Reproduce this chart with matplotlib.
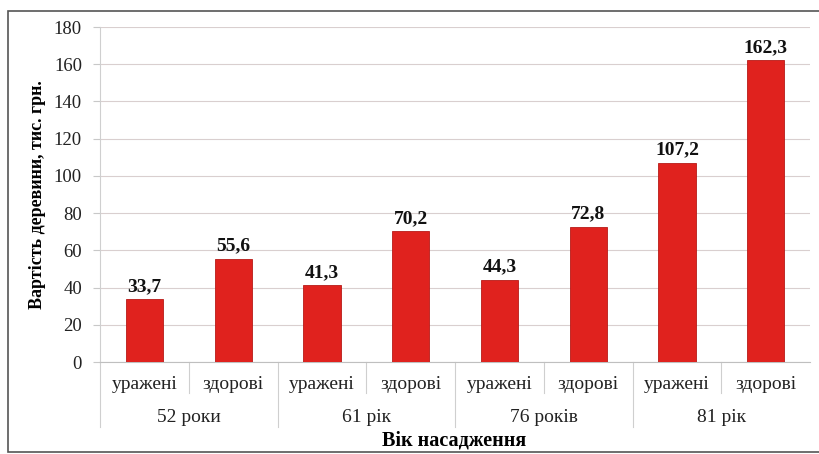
import matplotlib

matplotlib.use("Agg")
import matplotlib.pyplot as plt
import matplotlib.transforms as mtransforms
from matplotlib.patches import Rectangle

plt.rcParams["font.family"] = "serif"
plt.rcParams["font.serif"] = ["Liberation Serif", "DejaVu Serif"]

# data
groups = ["52 роки", "61 рік", "76 років", "81 рік"]
subgroups = ["уражені", "здорові"]
values = [33.7, 55.6, 41.3, 70.2, 44.3, 72.8, 107.2, 162.3]

bar_color = "#e0221e"

fig = plt.figure(figsize=(8.2, 4.54), dpi=100)
ax = fig.add_axes([0.122, 0.2026, 0.866, 0.7379])

x = list(range(len(values)))
ax.bar(x, values, width=0.42, color=bar_color, edgecolor="#b81a17", linewidth=0.6, zorder=3)

for xi, v in zip(x, values):
    ax.annotate(f"{v:.1f}".replace(".", ","), (xi, v), xytext=(0, 3),
                textcoords="offset points", ha="center", va="bottom",
                fontsize=14, fontweight="bold", color="#111111")

ax.set_xlim(-0.5, len(values) - 0.5)
ax.set_ylim(0, 180)
ax.set_yticks(range(0, 181, 20))
ax.tick_params(axis="y", labelsize=13.5, length=5, color="#c8c8c8", width=0.8, pad=8,
               labelcolor="#222222")
ax.grid(axis="y", color="#d9cfcf", linewidth=0.8, zorder=0)
ax.set_axisbelow(True)

for side in ["top", "right"]:
    ax.spines[side].set_visible(False)
ax.spines["left"].set_color("#cfcfcf")
ax.spines["bottom"].set_color("#bfbfbf")

# two-level category axis
ax.set_xticks([])
trans = mtransforms.blended_transform_factory(ax.transData, ax.transAxes)
for i in range(len(values)):
    ax.text(i, -0.066, subgroups[i % 2], transform=trans, ha="center", va="center",
            fontsize=14, color="#222222")
for g, name in enumerate(groups):
    ax.text(2 * g + 0.5, -0.165, name, transform=trans, ha="center", va="center",
            fontsize=14, color="#222222")
for b in range(len(values)):
    edge = b - 0.5
    depth = -0.194 if b % 2 == 0 else -0.0925
    ax.plot([edge, edge], [0, depth], transform=trans, color="#cfcfcf",
            linewidth=0.8, clip_on=False)

ax.set_ylabel("Вартість деревини, тис. грн.", fontsize=13, fontweight="bold", labelpad=6)
fig.text(0.554, 0.029, "Вік насадження", ha="center", va="center",
         fontsize=14.5, fontweight="bold")

# outer frame around the chart
fig.patches.append(Rectangle((0.0098, 0.004), 0.99, 0.972, transform=fig.transFigure,
                             fill=False, edgecolor="#555555", linewidth=1.2))

fig.savefig("out.png", dpi=100)
